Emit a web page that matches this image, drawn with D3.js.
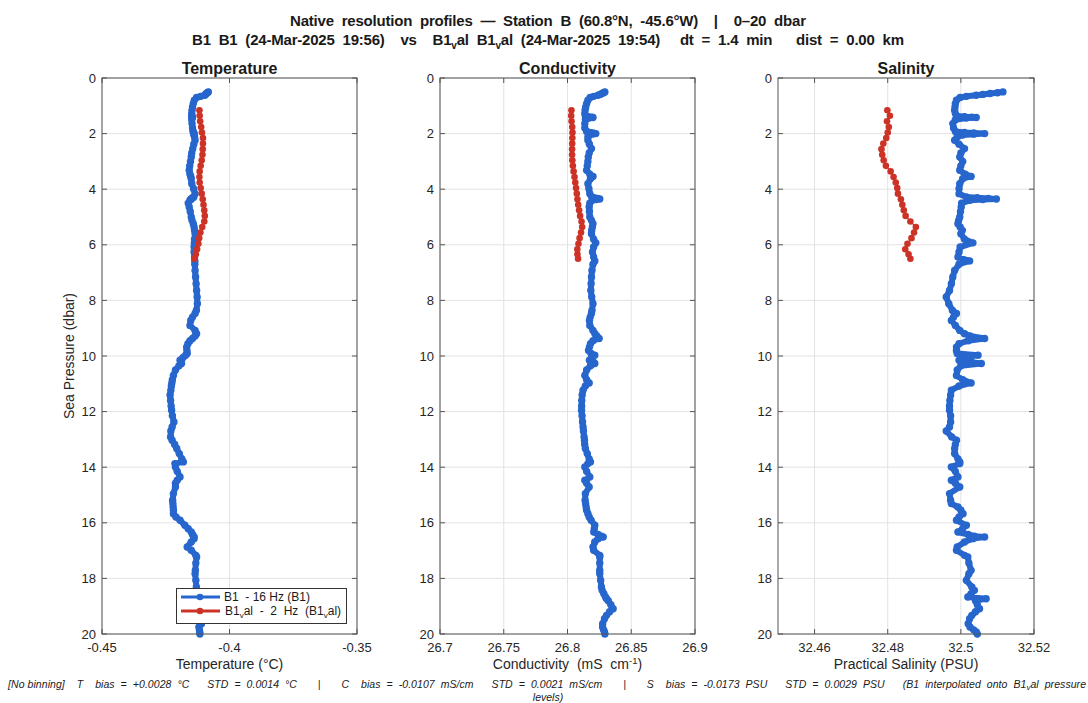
<!DOCTYPE html>
<meta charset="utf-8">
<style>
body { margin: 0; background: #fff; }
svg { font-family: 'Liberation Sans', Arial, sans-serif; }
.tick-label { font-size: 13px; fill: #262626; }
.ax-label { font-size: 14px; fill: #262626; }
.ptitle { font-size: 16px; font-weight: bold; fill: #1a1a1a; }
.sup { font-size: 15px; font-weight: bold; fill: #1a1a1a; }
.foot { font-size: 10.5px; font-style: italic; fill: #1a1a1a; }
.leg { font-size: 12px; fill: #1a1a1a; }
</style>
<body>
<div id="chart"></div>
<script src="https://cdn.jsdelivr.net/npm/d3@7"></script>
<script>
// B1 16 Hz profile (pressure, temperature, conductivity, salinity)
var pB = [0.50,0.53,0.56,0.59,0.62,0.66,0.70,0.80,0.92,1.04,1.16,1.28,1.37,1.39,1.41,1.42,1.44,1.50,1.64,1.80,
  1.92,1.96,1.98,2.00,2.02,2.05,2.12,2.24,2.38,2.54,2.70,2.84,3.00,3.16,3.32,3.46,3.54,3.62,3.80,3.98,
  4.16,4.28,4.31,4.33,4.35,4.37,4.40,4.50,4.64,4.80,5.00,5.12,5.24,5.36,5.48,5.60,5.80,5.93,6.08,6.26,
  6.44,6.58,6.70,6.92,7.16,7.40,7.64,7.88,8.12,8.36,8.47,8.60,8.72,8.90,9.08,9.20,9.28,9.37,9.45,9.56,
  9.68,9.80,9.91,9.97,10.05,10.15,10.22,10.27,10.35,10.50,10.70,10.85,10.97,11.08,11.23,11.40,11.60,11.80,11.95,12.15,
  12.37,12.55,12.70,12.91,13.03,13.18,13.33,13.51,13.70,13.81,13.87,13.99,14.15,14.35,14.47,14.58,14.71,14.95,15.19,15.31,
  15.43,15.55,15.67,15.79,15.91,16.09,16.21,16.33,16.42,16.48,16.51,16.57,16.69,16.87,16.99,17.17,17.23,17.45,17.71,17.83,
  18.07,18.31,18.43,18.55,18.67,18.73,18.80,18.95,19.09,19.20,19.33,19.45,19.63,19.75,19.85,19.93,20.00];
var tB = [-0.4083,-0.4087,-0.4091,-0.4094,-0.4097,-0.4113,-0.4129,-0.4138,-0.4142,-0.4145,-0.4147,-0.4148,-0.4148,-0.4147,-0.4146,-0.4146,-0.4147,-0.4148,-0.4147,-0.4145,
  -0.4143,-0.4141,-0.4140,-0.4140,-0.4140,-0.4139,-0.4137,-0.4135,-0.4140,-0.4144,-0.4148,-0.4150,-0.4153,-0.4156,-0.4158,-0.4155,-0.4152,-0.4150,-0.4148,-0.4141,
  -0.4135,-0.4140,-0.4144,-0.4148,-0.4150,-0.4152,-0.4155,-0.4162,-0.4158,-0.4154,-0.4150,-0.4147,-0.4142,-0.4139,-0.4137,-0.4135,-0.4137,-0.4138,-0.4139,-0.4139,
  -0.4137,-0.4136,-0.4136,-0.4135,-0.4133,-0.4131,-0.4129,-0.4127,-0.4126,-0.4130,-0.4135,-0.4145,-0.4152,-0.4155,-0.4135,-0.4129,-0.4135,-0.4145,-0.4155,-0.4163,
  -0.4168,-0.4167,-0.4166,-0.4172,-0.4182,-0.4194,-0.4190,-0.4188,-0.4198,-0.4212,-0.4220,-0.4224,-0.4226,-0.4228,-0.4230,-0.4233,-0.4231,-0.4229,-0.4227,-0.4224,
  -0.4218,-0.4225,-0.4230,-0.4231,-0.4225,-0.4215,-0.4207,-0.4197,-0.4187,-0.4181,-0.4214,-0.4212,-0.4205,-0.4194,-0.4205,-0.4212,-0.4212,-0.4220,-0.4223,-0.4222,
  -0.4221,-0.4220,-0.4220,-0.4210,-0.4194,-0.4175,-0.4162,-0.4150,-0.4145,-0.4141,-0.4139,-0.4139,-0.4150,-0.4166,-0.4150,-0.4132,-0.4129,-0.4132,-0.4134,-0.4135,
  -0.4132,-0.4130,-0.4129,-0.4128,-0.4127,-0.4126,-0.4125,-0.4124,-0.4122,-0.4124,-0.4126,-0.4125,-0.4110,-0.4120,-0.4118,-0.4117,-0.4116];
var cB = [26.8293,26.8283,26.8270,26.8255,26.8240,26.8205,26.8178,26.8160,26.8150,26.8143,26.8138,26.8136,26.8140,26.8165,26.8190,26.8200,26.8170,26.8140,26.8136,26.8136,
  26.8150,26.8175,26.8200,26.8222,26.8195,26.8170,26.8160,26.8160,26.8172,26.8188,26.8170,26.8163,26.8160,26.8155,26.8150,26.8175,26.8200,26.8180,26.8160,26.8168,
  26.8175,26.8190,26.8210,26.8235,26.8253,26.8225,26.8195,26.8175,26.8170,26.8172,26.8175,26.8188,26.8200,26.8195,26.8190,26.8188,26.8205,26.8222,26.8205,26.8196,
  26.8205,26.8214,26.8200,26.8192,26.8188,26.8185,26.8183,26.8190,26.8200,26.8192,26.8188,26.8178,26.8172,26.8175,26.8200,26.8215,26.8230,26.8248,26.8200,26.8180,
  26.8172,26.8165,26.8185,26.8214,26.8190,26.8172,26.8205,26.8214,26.8180,26.8150,26.8136,26.8150,26.8170,26.8140,26.8122,26.8115,26.8112,26.8111,26.8110,26.8114,
  26.8118,26.8122,26.8125,26.8130,26.8133,26.8135,26.8140,26.8155,26.8170,26.8180,26.8160,26.8136,26.8150,26.8175,26.8136,26.8150,26.8170,26.8140,26.8138,26.8142,
  26.8146,26.8150,26.8160,26.8170,26.8185,26.8214,26.8210,26.8206,26.8240,26.8265,26.8280,26.8240,26.8214,26.8200,26.8205,26.8253,26.8253,26.8253,26.8253,26.8253,
  26.8260,26.8266,26.8272,26.8285,26.8298,26.8306,26.8320,26.8340,26.8358,26.8330,26.8306,26.8290,26.8276,26.8275,26.8283,26.8290,26.8293];
var sB = [32.5115,32.5100,32.5080,32.5060,32.5042,32.5015,32.4998,32.4988,32.4985,32.4984,32.4983,32.4985,32.4990,32.5010,32.5030,32.5042,32.5015,32.4985,32.4978,32.4980,
  32.4985,32.5010,32.5035,32.5065,32.5035,32.5005,32.4990,32.4983,32.4995,32.5010,32.5000,32.4997,32.5005,32.5000,32.4997,32.5012,32.5028,32.5005,32.4997,32.4995,
  32.4995,32.5015,32.5045,32.5075,32.5097,32.5060,32.5025,32.5002,32.5001,32.4999,32.4997,32.4994,32.4992,32.4998,32.5004,32.5000,32.5010,32.5033,32.4998,32.4995,
  32.4992,32.5024,32.4995,32.4983,32.4978,32.4974,32.4969,32.4960,32.4967,32.4977,32.4988,32.4980,32.4974,32.4985,32.4997,32.5010,32.5025,32.5065,32.5020,32.4995,
  32.4988,32.4988,32.4990,32.5047,32.5005,32.4995,32.5030,32.5056,32.5000,32.4990,32.4988,32.5005,32.5028,32.4995,32.4974,32.4972,32.4970,32.4969,32.4969,32.4972,
  32.4972,32.4969,32.4960,32.4975,32.4988,32.4985,32.4983,32.4983,32.4992,32.4997,32.4997,32.4974,32.4985,32.4992,32.4974,32.4985,32.4997,32.4969,32.4972,32.4974,
  32.4992,32.5000,32.5006,32.4995,32.4988,32.5015,32.5005,32.4992,32.5020,32.5037,32.5065,32.5033,32.5010,32.4990,32.4988,32.5010,32.5019,32.5022,32.5028,32.5022,
  32.5015,32.5030,32.5037,32.5028,32.5019,32.5069,32.5040,32.5045,32.5051,32.5040,32.5030,32.5024,32.5020,32.5025,32.5035,32.5042,32.5045];

// B1val 2 Hz profile
var pR = [1.16,1.36,1.56,1.76,1.96,2.16,2.36,2.56,2.76,2.96,3.16,3.36,3.56,3.76,3.96,4.16,4.36,4.56,4.76,4.96,
  5.16,5.36,5.56,5.76,5.96,6.16,6.34,6.50];
var tR = [-0.4118,-0.4117,-0.4115,-0.4111,-0.4108,-0.4104,-0.4104,-0.4105,-0.4106,-0.4109,-0.4113,-0.4117,-0.4118,-0.4117,-0.4113,-0.4109,-0.4105,-0.4102,-0.4099,-0.4097,
  -0.4099,-0.4107,-0.4114,-0.4119,-0.4122,-0.4127,-0.4132,-0.4138];
var cR = [26.8031,26.8029,26.8032,26.8037,26.8039,26.8038,26.8037,26.8036,26.8036,26.8038,26.8042,26.8048,26.8055,26.8061,26.8067,26.8073,26.8078,26.8084,26.8091,26.8099,
  26.8110,26.8115,26.8106,26.8095,26.8086,26.8077,26.8078,26.8083];
var sR = [32.4799,32.4806,32.4798,32.4803,32.4800,32.4796,32.4788,32.4783,32.4785,32.4789,32.4795,32.4808,32.4816,32.4822,32.4826,32.4828,32.4836,32.4840,32.4844,32.4849,
  32.4862,32.4877,32.4872,32.4865,32.4854,32.4848,32.4857,32.4862];

var yTicks = [0,2,4,6,8,10,12,14,16,18,20];
var tTicks = [-0.45,-0.4,-0.35];
var cTicks = [26.7,26.75,26.8,26.85,26.9];
var sTicks = [32.46,32.48,32.5,32.52];

var blue = '#2766cc', red = '#cc3326';

var svg = d3.select('#chart').append('svg')
  .attr('width', 1088).attr('height', 703);

var y = d3.scaleLinear().domain([0, 20]).range([78, 634]);

var panels = [
  {title: 'Temperature', label: 'Temperature (°C)', dom: [-0.45,-0.35], ticks: tTicks, r: [102,357], b: tB, v: tR},
  {title: 'Conductivity', label: null, dom: [26.7,26.9], ticks: cTicks, r: [440,695], b: cB, v: cR},
  {title: 'Salinity', label: 'Practical Salinity (PSU)', dom: [32.45,32.52], ticks: sTicks, r: [778,1034], b: sB, v: sR}
];

panels.forEach(function(p) {
  var x = d3.scaleLinear().domain(p.dom).range(p.r);
  var g = svg.append('g');
  var x0 = p.r[0], x1 = p.r[1];

  // grid
  p.ticks.forEach(function(t) {
    g.append('line').attr('x1', x(t)).attr('x2', x(t)).attr('y1', 78).attr('y2', 634)
      .attr('stroke', '#e3e3e3').attr('stroke-width', 1);
  });
  yTicks.forEach(function(t) {
    g.append('line').attr('x1', x0).attr('x2', x1).attr('y1', y(t)).attr('y2', y(t))
      .attr('stroke', '#e3e3e3').attr('stroke-width', 1);
  });

  // data
  var bd = pB.map(function(pp, i) { return [p.b[i], pp]; });
  var rd = pR.map(function(pp, i) { return [p.v[i], pp]; });
  var line = d3.line().x(function(d) { return x(d[0]); }).y(function(d) { return y(d[1]); });

  g.append('path').datum(bd).attr('d', line).attr('fill', 'none')
    .attr('stroke', blue).attr('stroke-width', 6)
    .attr('stroke-linejoin', 'round').attr('stroke-linecap', 'round');
  g.selectAll('.bm').data(bd).enter().append('circle')
    .attr('cx', function(d) { return x(d[0]); }).attr('cy', function(d) { return y(d[1]); })
    .attr('r', 3.7).attr('fill', blue);

  g.append('path').datum(rd).attr('d', line).attr('fill', 'none')
    .attr('stroke', red).attr('stroke-width', 1.2);
  g.selectAll('.rm').data(rd).enter().append('circle')
    .attr('cx', function(d) { return x(d[0]); }).attr('cy', function(d) { return y(d[1]); })
    .attr('r', 3.3).attr('fill', red);

  // box + ticks
  g.append('rect').attr('x', x0).attr('y', 78).attr('width', x1 - x0).attr('height', 556)
    .attr('fill', 'none').attr('stroke', '#555').attr('stroke-width', 1);
  p.ticks.forEach(function(t) {
    g.append('line').attr('x1', x(t)).attr('x2', x(t)).attr('y1', 634).attr('y2', 629).attr('stroke', '#555');
    g.append('line').attr('x1', x(t)).attr('x2', x(t)).attr('y1', 78).attr('y2', 83).attr('stroke', '#555');
    g.append('text').attr('class', 'tick-label').attr('x', x(t)).attr('y', 652)
      .attr('text-anchor', 'middle').text(String(t));
  });
  yTicks.forEach(function(t) {
    g.append('line').attr('x1', x0).attr('x2', x0 + 5).attr('y1', y(t)).attr('y2', y(t)).attr('stroke', '#555');
    g.append('line').attr('x1', x1).attr('x2', x1 - 5).attr('y1', y(t)).attr('y2', y(t)).attr('stroke', '#555');
    g.append('text').attr('class', 'tick-label').attr('x', x0 - 6).attr('y', y(t) + 4.5)
      .attr('text-anchor', 'end').text(t);
  });

  g.append('text').attr('class', 'ptitle').attr('x', (x0 + x1) / 2).attr('y', 74)
    .attr('text-anchor', 'middle').text(p.title);

  var xl = g.append('text').attr('class', 'ax-label').attr('x', (x0 + x1) / 2).attr('y', 669)
    .attr('text-anchor', 'middle');
  if (p.label) {
    xl.text(p.label);
  } else {
    xl.attr('xml:space', 'preserve');
    xl.append('tspan').text('Conductivity  (mS  cm');
    xl.append('tspan').attr('dy', -5).attr('font-size', '9.5px').text('-1');
    xl.append('tspan').attr('dy', 5).text(')');
  }
});

svg.append('text').attr('class', 'ax-label')
  .attr('transform', 'translate(74,356) rotate(-90)')
  .attr('text-anchor', 'middle').text('Sea Pressure (dbar)');

// super title
svg.append('text').attr('class', 'sup').attr('x', 548).attr('y', 26)
  .attr('text-anchor', 'middle').attr('xml:space', 'preserve')
  .attr('textLength', 516).attr('lengthAdjust', 'spacing')
  .text('Native  resolution  profiles  —  Station  B  (60.8°N,  -45.6°W)    |    0–20  dbar');

var s2 = svg.append('text').attr('class', 'sup').attr('x', 548).attr('y', 45)
  .attr('text-anchor', 'middle').attr('xml:space', 'preserve')
  .attr('textLength', 712).attr('lengthAdjust', 'spacing');
s2.append('tspan').text('B1  B1  (24-Mar-2025  19:56)    vs    B1');
s2.append('tspan').attr('font-size', '10px').attr('dy', 4).text('v');
s2.append('tspan').attr('dy', -4).text('al  B1');
s2.append('tspan').attr('font-size', '10px').attr('dy', 4).text('v');
s2.append('tspan').attr('dy', -4).text('al  (24-Mar-2025  19:54)     dt  =  1.4  min      dist  =  0.00  km');

// legend
var lg = svg.append('g');
lg.append('rect').attr('x', 176.5).attr('y', 588.5).attr('width', 170).attr('height', 35)
  .attr('fill', '#fff').attr('stroke', '#333').attr('stroke-width', 1);
[[597, blue], [611, red]].forEach(function(e) {
  lg.append('line').attr('x1', 181).attr('x2', 220).attr('y1', e[0]).attr('y2', e[0])
    .attr('stroke', e[1]).attr('stroke-width', 3);
  lg.append('circle').attr('cx', 200).attr('cy', e[0]).attr('r', 3.3).attr('fill', e[1]);
});
lg.append('text').attr('class', 'leg').attr('x', 224).attr('y', 601)
  .attr('xml:space', 'preserve').text('B1  - 16 Hz (B1)');
var l2 = lg.append('text').attr('class', 'leg').attr('x', 225).attr('y', 615).attr('xml:space', 'preserve');
l2.append('tspan').text('B1');
l2.append('tspan').attr('font-size', '8px').attr('dy', 3).text('v');
l2.append('tspan').attr('dy', -3).text('al  -  2  Hz  (B1');
l2.append('tspan').attr('font-size', '8px').attr('dy', 3).text('v');
l2.append('tspan').attr('dy', -3).text('al)');

// footer
var f1 = svg.append('text').attr('class', 'foot').attr('x', 8).attr('y', 688)
  .attr('xml:space', 'preserve').attr('textLength', 1078).attr('lengthAdjust', 'spacing');
f1.append('tspan').text('[No binning]    T    bias  =  +0.0028  °C      STD  =  0.0014  °C       |       C    bias  =  -0.0107  mS/cm      STD  =  0.0021  mS/cm       |       S    bias  =  -0.0173  PSU      STD  =  0.0029  PSU      (B1  interpolated  onto  B1');
f1.append('tspan').attr('font-size', '8px').attr('dy', 2).text('v');
f1.append('tspan').attr('dy', -2).text('al  pressure');
svg.append('text').attr('class', 'foot').attr('x', 548).attr('y', 701)
  .attr('text-anchor', 'middle').text('levels)');
</script>
</body>
